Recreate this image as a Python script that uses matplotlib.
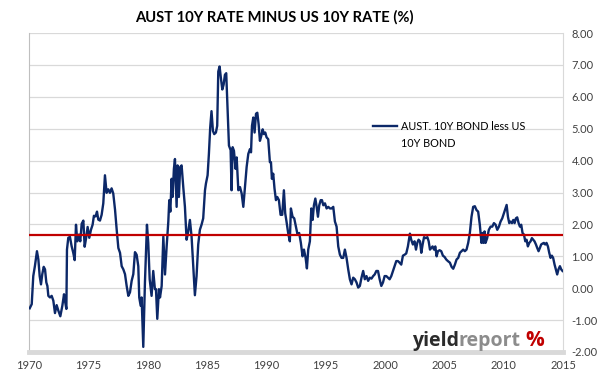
import matplotlib
matplotlib.use('Agg')
import matplotlib.pyplot as plt

# 数据
years = [
    1970.06, 1970.23, 1970.36, 1970.50, 1970.67, 1970.79, 1970.90, 1971.01, 1971.12, 1971.24,
    1971.35, 1971.46, 1971.55, 1971.63, 1971.77, 1971.91, 1972.05, 1972.19, 1972.33, 1972.47,
    1972.64, 1972.81, 1972.95, 1973.03, 1973.15, 1973.20, 1973.31, 1973.45, 1973.59, 1973.73,
    1973.85, 1973.96, 1974.07, 1974.21, 1974.32, 1974.44, 1974.58, 1974.69, 1974.83, 1974.94,
    1975.08, 1975.22, 1975.36, 1975.47, 1975.61, 1975.73, 1975.84, 1975.98, 1976.12, 1976.26,
    1976.40, 1976.54, 1976.68, 1976.82, 1976.96, 1977.10, 1977.25, 1977.39, 1977.53, 1977.67,
    1977.81, 1977.95, 1978.09, 1978.23, 1978.37, 1978.51, 1978.65, 1978.79,
    1978.93, 1979.07, 1979.21, 1979.29, 1979.41, 1979.49, 1979.63, 1979.77, 1979.94, 1980.05,
    1980.17, 1980.33, 1980.47, 1980.61, 1980.70, 1980.81, 1980.95, 1981.04, 1981.18, 1981.32,
    1981.46, 1981.60, 1981.74, 1981.82, 1981.91, 1982.02, 1982.10, 1982.21, 1982.30, 1982.44,
    1982.52, 1982.63, 1982.74, 1982.86, 1983.00, 1983.14, 1983.28, 1983.42, 1983.56, 1983.70,
    1983.84, 1983.98, 1984.12, 1984.26, 1984.40, 1984.54, 1984.68, 1984.83, 1984.91, 1985.05,
    1985.16, 1985.27, 1985.38, 1985.50, 1985.61, 1985.75, 1985.86, 1985.95, 1986.06, 1986.17,
    1986.29, 1986.40, 1986.51, 1986.62, 1986.74, 1986.85, 1986.99, 1987.07, 1987.16, 1987.27,
    1987.41, 1987.50, 1987.64,
    1987.78, 1987.92, 1988.06, 1988.20, 1988.34, 1988.48, 1988.62, 1988.71, 1988.79, 1988.90,
    1989.01, 1989.13, 1989.24, 1989.35, 1989.46, 1989.58, 1989.69, 1989.80, 1989.91, 1990.02,
    1990.16, 1990.30, 1990.39, 1990.47, 1990.58, 1990.69, 1990.81, 1990.92, 1991.06, 1991.20,
    1991.34, 1991.48, 1991.59, 1991.70, 1991.84, 1991.98, 1992.07, 1992.21, 1992.35, 1992.49,
    1992.63, 1992.77, 1992.91, 1993.05, 1993.17, 1993.31, 1993.42, 1993.53, 1993.67, 1993.79,
    1993.90, 1994.01, 1994.13, 1994.24, 1994.35, 1994.46, 1994.58, 1994.69, 1994.80, 1994.94,
    1995.08, 1995.22, 1995.36, 1995.50, 1995.64, 1995.78, 1995.92, 1996.06, 1996.20, 1996.34,
    1996.48,
    1996.62, 1996.76, 1996.90, 1997.04, 1997.18, 1997.32, 1997.46, 1997.60, 1997.74, 1997.88,
    1998.02, 1998.16, 1998.30, 1998.44, 1998.58, 1998.72, 1998.86, 1999.00, 1999.13, 1999.27,
    1999.41, 1999.55, 1999.69, 1999.83, 1999.97, 2000.11, 2000.25, 2000.39, 2000.53, 2000.67,
    2000.81, 2000.95, 2001.09, 2001.23, 2001.37, 2001.51, 2001.65, 2001.79, 2001.93, 2002.02,
    2002.10, 2002.21, 2002.35, 2002.49, 2002.61, 2002.72, 2002.83, 2002.95, 2003.06, 2003.17,
    2003.29, 2003.43, 2003.57, 2003.68, 2003.79, 2003.90, 2004.01, 2004.13, 2004.24, 2004.35,
    2004.46, 2004.60, 2004.74, 2004.88, 2005.02, 2005.16, 2005.30,
    2005.47, 2005.61, 2005.75, 2005.89, 2006.03, 2006.17, 2006.31, 2006.45, 2006.59, 2006.73,
    2006.87, 2007.01, 2007.15, 2007.29, 2007.43, 2007.57, 2007.71, 2007.85, 2007.99, 2008.13,
    2008.22, 2008.30, 2008.39, 2008.47, 2008.61, 2008.75, 2008.90, 2009.04, 2009.18, 2009.32,
    2009.46, 2009.60, 2009.74, 2009.88, 2010.02, 2010.16, 2010.25, 2010.36, 2010.47, 2010.58,
    2010.70, 2010.81, 2010.92, 2011.03, 2011.14, 2011.26, 2011.37, 2011.48, 2011.59, 2011.71,
    2011.82, 2011.93, 2012.04, 2012.16, 2012.27, 2012.38, 2012.49, 2012.60, 2012.72, 2012.83,
    2012.94, 2013.05, 2013.16, 2013.28, 2013.39, 2013.50, 2013.61, 2013.73, 2013.84, 2013.95,
    2014.06, 2014.17, 2014.29, 2014.40, 2014.51, 2014.62, 2014.74, 2014.85, 2014.96,
]
spread = [
    -0.63, -0.50, 0.38, 0.70, 1.16, 0.90, 0.38, 0.12, 0.44, 0.67,
    0.59, 0.18, 0.07, -0.24, -0.29, -0.24, -0.39, -0.78, -0.53, -0.70,
    -0.88, -0.55, -0.19, -0.39, -0.65, 1.21, 1.58, 1.61, 1.32, 1.11,
    0.88, 1.99, 1.47, 1.68, 1.47, 2.02, 2.12, 1.30, 1.61, 1.92,
    1.58, 1.83, 1.99, 2.27, 2.25, 2.40, 2.15, 2.12, 2.30, 2.66,
    3.54, 2.99, 3.10, 2.99, 3.13, 2.97, 2.46, 1.83, 1.26, 1.11,
    0.69, 0.59, 0.44, 0.07, -0.24, -0.13, 0.23, 0.44,
    1.13, 1.05, 0.69, -0.29, -0.55, -0.29, -1.84, 0.18, 1.99, 1.42,
    0.28, -0.24, 0.54, -0.03, -0.03, -0.96, -0.03, -0.29, 0.07, 1.62,
    0.43, 1.31, 2.09, 2.76, 2.40, 3.43, 2.86, 3.74, 4.05, 2.55,
    3.85, 2.86, 3.80, 3.85, 3.17, 2.55, 1.52, 1.78, 2.14, 1.62,
    0.69, -0.22, 0.38, 1.37, 1.83, 1.99, 2.19, 3.07, 3.28, 3.54,
    4.21, 5.04, 5.55, 4.93, 4.83, 4.88, 5.09, 6.79, 6.95, 6.59,
    6.23, 6.38, 6.69, 6.74, 5.55, 4.47, 4.33, 3.07, 4.42, 4.31,
    3.74, 4.10, 3.07,
    3.17, 2.97, 2.55, 3.17, 3.80, 4.21, 4.36, 4.26, 5.09, 5.35,
    4.88, 5.47, 5.50, 5.14, 4.62, 4.78, 4.98, 4.83, 4.88, 4.73,
    4.67, 3.95, 3.95, 3.43, 3.59, 3.12, 2.76, 2.86, 2.76, 2.30,
    2.30, 3.07, 2.35, 2.09, 1.73, 1.47, 2.50, 2.24, 2.19, 1.93,
    1.68, 1.73, 1.42, 1.00, 1.21, 0.95, 0.62, 1.21, 1.47, 2.50,
    2.14, 2.60, 2.81, 2.55, 2.24, 2.60, 2.76, 2.76, 2.60, 2.66,
    2.50, 2.55, 2.50, 2.50, 2.55, 2.09, 1.93, 1.31, 1.05, 0.95,
    0.95,
    1.21, 0.95, 0.59, 0.28, 0.12, 0.33, 0.28, 0.18, 0.02, 0.07,
    0.33, 0.54, 0.28, 0.38, 0.23, 0.33, 0.30, 0.38, 0.43, 0.54,
    0.54, 0.28, 0.07, 0.18, 0.38, 0.38, 0.33, 0.28, 0.38, 0.54,
    0.69, 0.85, 0.85, 0.80, 0.74, 1.02, 1.05, 1.09, 1.31, 1.52,
    1.71, 1.52, 1.37, 1.47, 1.21, 1.42, 1.52, 1.47, 1.11, 1.37,
    1.60, 1.57, 1.60, 1.47, 1.21, 1.26, 1.31, 1.21, 1.31, 1.00,
    1.16, 1.19, 1.16, 1.02, 0.98, 0.90, 0.85,
    0.80, 0.67, 0.61, 0.74, 0.90, 0.95, 1.11, 1.16, 1.21, 1.16,
    1.21, 1.42, 1.73, 2.24, 2.55, 2.57, 2.45, 2.40, 1.99, 1.42,
    1.73, 1.42, 1.78, 1.42, 1.57, 1.83, 1.93, 1.93, 2.04, 1.99,
    1.83, 1.93, 2.09, 2.19, 2.35, 2.50, 2.61, 2.24, 2.04, 2.09,
    2.04, 2.14, 2.04, 2.19, 2.22, 2.04, 1.93, 1.99, 1.73, 1.68,
    1.47, 1.52, 1.31, 1.42, 1.47, 1.57, 1.52, 1.47, 1.37, 1.26,
    1.16, 1.26, 1.37, 1.40, 1.42, 1.37, 1.42, 1.31, 1.11, 0.95,
    1.02, 0.95, 0.74, 0.59, 0.43, 0.59, 0.69, 0.59, 0.54,
]
avg_spread = 1.66  # 红色平均线
x_ticks = [1970, 1975, 1980, 1985, 1990, 1995, 2000, 2005, 2010, 2015]
y_ticks = [-2, -1, 0, 1, 2, 3, 4, 5, 6, 7, 8]
series_name = ['AUST. 10Y BOND less US', '10Y BOND']

plt.rcParams['font.family'] = ['Lato', 'DejaVu Sans']

fig = plt.figure(figsize=(6.02, 3.77), dpi=100)
ax = fig.add_axes([29 / 602, 1 - 352 / 377, 534 / 602, 319 / 377])

ax.plot(years, spread, color='#0c2868', lw=1.7, label=series_name[0], zorder=3)
ax.axhline(avg_spread, color='#c00000', lw=1.6, zorder=4)

ax.set_xlim(1970, 2015)
ax.set_ylim(-2, 8)
ax.set_xticks(x_ticks)
ax.set_yticks(y_ticks)
ax.set_yticklabels(['%.2f' % v for v in y_ticks])
ax.yaxis.tick_right()
ax.tick_params(axis='both', length=0, labelsize=8, colors='#404040')
ax.tick_params(axis='y', pad=6)
ax.tick_params(axis='x', pad=6)
ax.grid(axis='y', color='#d9d9d9', lw=0.9)
ax.set_axisbelow(True)

ax.spines['top'].set_visible(False)
ax.spines['left'].set_color('#bfbfbf')
ax.spines['right'].set_color('#d9d9d9')
ax.spines['bottom'].set_color('#d9d9d9')
ax.spines['bottom'].set_linewidth(3.5)

leg = ax.legend(loc='upper left', bbox_to_anchor=(0.645, 0.725), frameon=False, fontsize=7.8,
                handlelength=2.2, handletextpad=0.3, borderpad=0, borderaxespad=0)

fig.text(0.455, 1 - 17 / 377, 'AUST 10Y RATE MINUS US 10Y RATE (%)', ha='center', va='center',
         fontsize=10.6, fontweight='bold', color='#000000')

fig.canvas.draw()
r = fig.canvas.get_renderer()
# 图例第二行
lt = leg.get_texts()[0].get_window_extent(r)
fig.text(lt.x0 / fig.bbox.width, (lt.y0 - 15) / fig.bbox.height, series_name[1],
         fontsize=7.8, color='#000000')

# logo
logo_font = ['Open Sans', 'DejaVu Sans']
t1 = fig.text(412 / 602, 1 - 346 / 377, 'yield', fontsize=14, fontweight='bold', color='#2b2b2b',
              family=logo_font)
bb = t1.get_window_extent(r)
t2 = fig.text((bb.x1 - 1) / fig.bbox.width, 1 - 346 / 377, 'report', fontsize=14, fontweight='bold',
              color='#8c8c8c', family=logo_font)
bb2 = t2.get_window_extent(r)
fig.text((bb2.x1 + 5) / fig.bbox.width, 1 - 346 / 377, '%', fontsize=15, fontweight='bold',
         color='#c00000', family=logo_font)

plt.savefig('out.png', dpi=100)
